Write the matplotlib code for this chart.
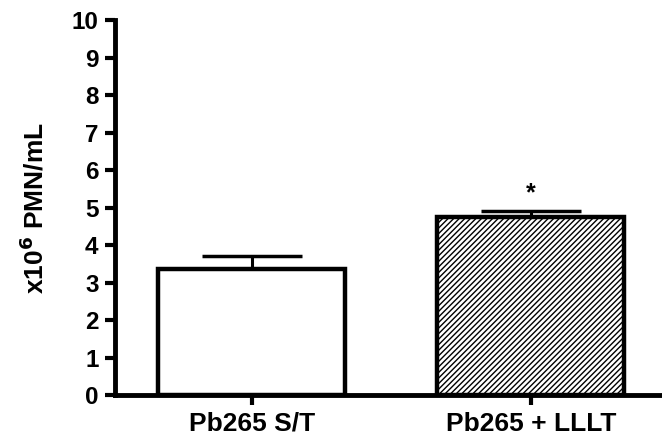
import matplotlib.pyplot as plt

plt.rcParams['font.family'] = ['Liberation Sans', 'DejaVu Sans']
plt.rcParams['font.weight'] = 'bold'
plt.rcParams['hatch.linewidth'] = 1.0

groups = ['Pb265 S/T', 'Pb265 + LLLT']
means = [3.36, 4.75]
sem = [0.35, 0.17]
hatches = ['', '//////']
marks = ['', '*']

fig = plt.figure(figsize=(6.62, 4.37), dpi=100)
ax = fig.add_axes([0.174, 0.096, 0.826, 0.858])

pos = list(range(len(groups)))
for i in pos:
    ax.bar(i, means[i], width=0.67, color='white', edgecolor='black',
           linewidth=3.2, hatch=hatches[i], zorder=2)
    ax.errorbar(i, means[i], yerr=[[0], [sem[i]]], fmt='none', ecolor='black',
                elinewidth=2.2, capsize=36, capthick=2.5, zorder=1)
    if marks[i]:
        ax.annotate(marks[i], (i, means[i] + sem[i]), xytext=(0, 4),
                    textcoords='offset points', ha='center', va='bottom',
                    fontsize=18, fontweight='bold')

ax.set_xlim(-0.49, 1.47)
ax.set_ylim(0, 10)
ax.set_yticks(range(0, 11))
ax.set_xticks(pos)
ax.set_xticklabels(groups)
ax.set_ylabel('x10$^{\\mathbf{6}}$ PMN/mL', fontsize=19, fontweight='bold', labelpad=17)

for s in ['top', 'right']:
    ax.spines[s].set_visible(False)
for s in ['left', 'bottom']:
    ax.spines[s].set_linewidth(3.5)
ax.tick_params(axis='both', width=3, length=7)
ax.tick_params(axis='y', labelsize=17.5, pad=5)
ax.tick_params(axis='x', labelsize=19, pad=5)
for lab in ax.get_xticklabels() + ax.get_yticklabels():
    lab.set_fontweight('bold')

fig.savefig('out.png', dpi=100)
